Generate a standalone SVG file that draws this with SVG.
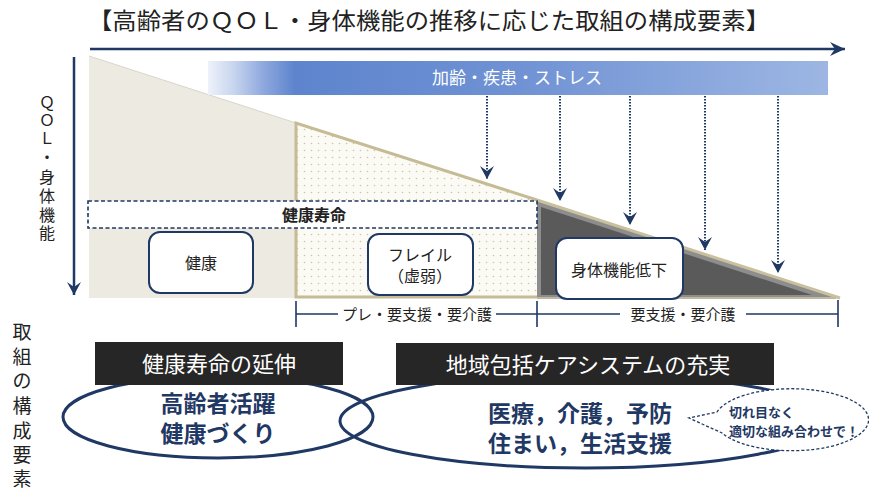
<svg xmlns="http://www.w3.org/2000/svg" width="869" height="490" viewBox="0 0 869 490">
<style>
text{font-family:"Noto Sans CJK JP","Noto Sans",sans-serif;}
.c{font-family:"Liberation Sans","Noto Sans CJK JP",sans-serif;}
.t{fill:#222;}
.box{fill:#fff;stroke:#1f3864;stroke-width:2;}
.navy{fill:#1f3864;}
.dot{stroke:#1f3864;stroke-width:2;stroke-dasharray:1.5 1.5;fill:none;}
.lbl{fill:#262626;}
.w{fill:#fff;}
.brk{stroke:#1f3864;stroke-width:1.6;fill:none;}
.v1{font-size:16px;fill:#222;text-anchor:middle;}
.v2{font-size:19px;fill:#222;text-anchor:middle;}
</style>
<defs>
<linearGradient id="band" x1="0" y1="0" x2="1" y2="0">
<stop offset="0" stop-color="#eef2fa"/>
<stop offset="0.04" stop-color="#c9d6ef"/>
<stop offset="0.09" stop-color="#8ea8de"/>
<stop offset="0.14" stop-color="#5d84cd"/>
<stop offset="0.5" stop-color="#7092d4"/>
<stop offset="1" stop-color="#9db6e3"/>
</linearGradient>
<pattern id="dots" width="7" height="7" patternUnits="userSpaceOnUse">
<rect width="7" height="7" fill="#fbfaf4"/>
<circle cx="3.5" cy="3.5" r="0.8" fill="#cdc5a2"/>
</pattern>
<marker id="ah" viewBox="-15 -8 16 16" refX="0" refY="0" markerWidth="16" markerHeight="16" markerUnits="userSpaceOnUse" orient="auto">
<path d="M0,0 L-13,-7 L-8,0 L-13,7 Z" fill="#1f3864"/>
</marker>
<marker id="ahr" viewBox="-16 -8 17 16" refX="0" refY="0" markerWidth="17" markerHeight="16" markerUnits="userSpaceOnUse" orient="auto">
<path d="M0,0 L-15,-7 L-10,0 L-15,7 Z" fill="#1f3864"/>
</marker>
</defs>
<rect width="869" height="490" fill="#fff"/>

<g id="title">
<text x="429" y="29" font-size="23" text-anchor="middle" textLength="682" lengthAdjust="spacingAndGlyphs" class="t">【高齢者のＱＯＬ・身体機能の推移に応じた取組の構成要素】</text>
</g>

<g id="stage-shapes">
<polygon points="89,56 296,123 296,298 89,298" fill="#edebe1"/>
<line x1="89" y1="56" x2="296" y2="123" stroke="#d8d5ca" stroke-width="1"/>
<polygon points="296,123 537,200 537,298 296,298" fill="url(#dots)"/>
<path d="M537,200 L296,123 L296,297 L537,297" fill="none" stroke="#c5bc95" stroke-width="3"/>
<polygon points="537,200 838,298 537,298" fill="#8d8d8d"/>
<polygon points="541,207 812,295 541,295" fill="#5a5a5a"/>
<line x1="537" y1="200" x2="840" y2="298" stroke="#c9c19e" stroke-width="3"/>
<line x1="537" y1="298" x2="836" y2="298" stroke="#bdb8a0" stroke-width="2"/>
</g>

<g id="band">
<rect x="208" y="61" width="620" height="34" fill="url(#band)"/>
<text x="517" y="84" font-size="17" text-anchor="middle" class="w">加齢・疾患・ストレス</text>
</g>

<g id="connectors">
<line x1="90" y1="49" x2="845" y2="49" stroke="#1f3864" stroke-width="2.5" marker-end="url(#ahr)"/>
<line x1="74" y1="57" x2="74" y2="295" stroke="#1f3864" stroke-width="2.5" marker-end="url(#ah)"/>
<line x1="487" y1="96" x2="487" y2="179" class="dot" marker-end="url(#ah)"/>
<line x1="560" y1="96" x2="560" y2="201" class="dot" marker-end="url(#ah)"/>
<line x1="630" y1="96" x2="630" y2="225" class="dot" marker-end="url(#ah)"/>
<line x1="705" y1="96" x2="705" y2="250" class="dot" marker-end="url(#ah)"/>
<line x1="778" y1="96" x2="778" y2="273" class="dot" marker-end="url(#ah)"/>
</g>

<g id="axis-label">
<text x="47" y="108" class="v1 c">Ｑ</text>
<text x="47" y="126" class="v1 c">Ｏ</text>
<text x="47" y="144" class="v1 c">Ｌ</text>
<text x="47" y="163" class="v1 c">・</text>
<text x="47" y="183" class="v1 c">身</text>
<text x="47" y="202" class="v1 c">体</text>
<text x="47" y="221" class="v1 c">機</text>
<text x="47" y="239" class="v1 c">能</text>
</g>

<g id="healthy-life">
<rect x="88" y="201" width="449" height="27" fill="#fff" stroke="#1f3864" stroke-width="1.6" stroke-dasharray="4 2.5"/>
<text x="314" y="221" font-size="16" font-weight="bold" text-anchor="middle" class="t">健康寿命</text>
</g>

<g id="node-kenko">
<rect x="149" y="232" width="104" height="61" rx="11" class="box"/>
<text x="201" y="269" font-size="16" text-anchor="middle" class="t">健康</text>
</g>

<g id="node-frail">
<rect x="368" y="234" width="105" height="61" rx="11" class="box"/>
<text x="420" y="261" font-size="16" text-anchor="middle" class="t c">フレイル</text>
<text x="420" y="282" font-size="16" text-anchor="middle" class="t c">（虚弱）</text>
</g>

<g id="node-decline">
<rect x="556" y="238" width="127" height="61" rx="11" class="box"/>
<text x="619" y="276" font-size="16" text-anchor="middle" class="t">身体機能低下</text>
</g>

<g id="brackets">
<path d="M296,301 V327 M537,301 V327 M838,300 V327" class="brk"/>
<path d="M296,314 H338 M496,314 H537 M537,314 H620 M746,314 H838" class="brk"/>
<text x="417" y="320" font-size="15" text-anchor="middle" class="t">プレ・要支援・要介護</text>
<text x="683" y="320" font-size="15" text-anchor="middle" class="t">要支援・要介護</text>
</g>

<g id="side-label">
<text x="22" y="339" class="v2 c">取</text>
<text x="22" y="364" class="v2 c">組</text>
<text x="22" y="388" class="v2 c">の</text>
<text x="22" y="413" class="v2 c">構</text>
<text x="22" y="438" class="v2 c">成</text>
<text x="22" y="462" class="v2 c">要</text>
<text x="22" y="486" class="v2 c">素</text>
</g>

<g id="ellipse-left">
<ellipse cx="218" cy="417" rx="155" ry="41" fill="none" stroke="#1f3864" stroke-width="3"/>
</g>
<g id="ellipse-right">
<ellipse cx="585" cy="421" rx="245" ry="47" fill="none" stroke="#1f3864" stroke-width="3"/>
</g>

<g id="node-extension">
<rect x="95" y="342" width="248" height="43" class="lbl"/>
<text x="219" y="372" font-size="22" text-anchor="middle" class="w">健康寿命の延伸</text>
<text x="218" y="412" font-size="23" font-weight="bold" text-anchor="middle" class="navy c">高齢者活躍</text>
<text x="218" y="442" font-size="23" font-weight="bold" text-anchor="middle" class="navy c">健康づくり</text>
</g>

<g id="node-community">
<rect x="396" y="343" width="378" height="42" class="lbl"/>
<text x="588" y="373" font-size="22" text-anchor="middle" class="w">地域包括ケアシステムの充実</text>
<text x="580" y="422" font-size="23" font-weight="bold" text-anchor="middle" class="navy c">医療，介護，予防</text>
<text x="580" y="452" font-size="23" font-weight="bold" text-anchor="middle" class="navy c">住まい，生活支援</text>
</g>

<g id="bubble">
<path d="M717,412 A77,31 0 1 1 722,433 L689,418 Z" fill="#fff" stroke="#1f3864" stroke-width="1.3" stroke-dasharray="3 2"/>
<text x="729" y="416.5" font-size="13" font-weight="bold" class="navy c">切れ目なく</text>
<text x="729" y="435.5" font-size="13" font-weight="bold" class="navy c">適切な組み合わせで！</text>
</g>
</svg>
